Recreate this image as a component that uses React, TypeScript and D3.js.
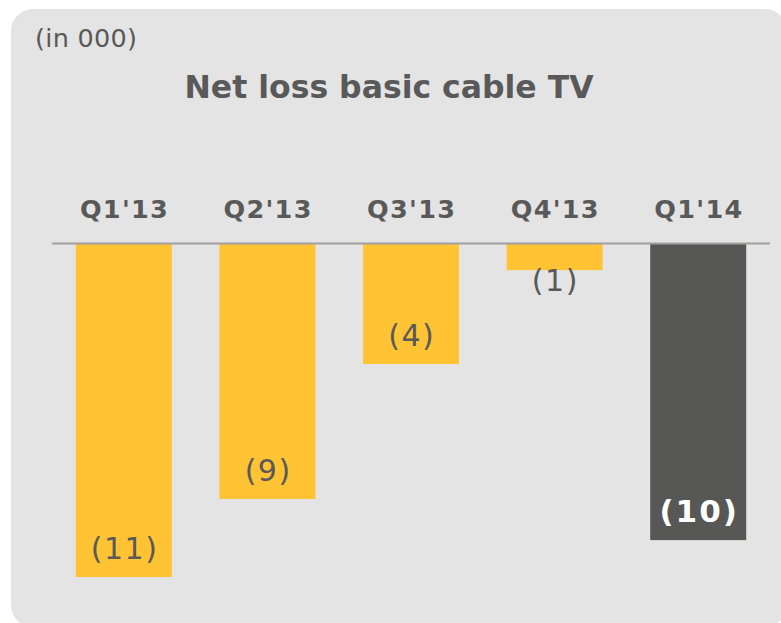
import React from "react";
import * as d3 from "d3";

const categories = ["Q1'13", "Q2'13", "Q3'13", "Q4'13", "Q1'14"];
const values = [-11.1, -8.5, -4.0, -0.87, -9.87];
const highlight = [false, false, false, false, true];
const title = "Net loss basic cable TV";
const unitLabel = "(in 000)";

const W = 781;
const H = 623;
const FONT = "Verdana, 'DejaVu Sans', sans-serif";
const TEXT = "#595959";

export default function App() {
  const x = d3
    .scaleBand<string>()
    .domain(categories)
    .range([52, 770])
    .paddingInner(0.3315)
    .paddingOuter(0.3315 / 2);
  const y = d3.scaleLinear().domain([-12, 0]).range([244 + 360, 244]);
  const fmt = (v: number) => `(${Math.round(-v)})`;

  return (
    <svg
      width={W}
      height={H}
      style={{ position: "absolute", left: 0, top: 0, background: "#fff" }}
    >
      <rect x={11} y={9} width={776} height={618} rx={22} ry={22} fill="#e4e4e4" />
      <text x={35} y={47} fontFamily={FONT} fontSize={25.5} letterSpacing={0.3} fill={TEXT}>
        {unitLabel}
      </text>
      <text
        x={389}
        y={98}
        textAnchor="middle"
        fontFamily={FONT}
        fontSize={31.5}
        fontWeight="bold"
        fill={TEXT}
      >
        {title}
      </text>
      {categories.map((c) => (
        <text
          key={c}
          x={(x(c) ?? 0) + x.bandwidth() / 2 + 0.7}
          y={218}
          textAnchor="middle"
          fontFamily={FONT}
          fontSize={25.5}
          letterSpacing={1.3}
          fontWeight="bold"
          fill={TEXT}
        >
          {c}
        </text>
      ))}
      {categories.map((c, i) => {
        const v = values[i];
        const top = y(0);
        const bottom = y(v);
        const h = bottom - top;
        const cx = (x(c) ?? 0) + x.bandwidth() / 2;
        const inside = h > 60;
        const ly = inside ? bottom - 29 : bottom + 10;
        const ls = highlight[i] ? 2 : 1.5;
        return (
          <g key={c}>
            <rect
              x={x(c)}
              y={top}
              width={x.bandwidth()}
              height={h}
              fill={highlight[i] ? "#575755" : "#ffc333"}
            />
            <text
              x={cx + ls / 2}
              y={ly}
              dy="0.35em"
              textAnchor="middle"
              fontFamily={FONT}
              fontSize={highlight[i] ? 31 : 30}
              letterSpacing={ls}
              fontWeight={highlight[i] ? "bold" : "normal"}
              fill={highlight[i] ? "#ffffff" : TEXT}
            >
              {fmt(v)}
            </text>
          </g>
        );
      })}
      <line x1={52} x2={770} y1={243.5} y2={243.5} stroke="#a0a0a0" strokeWidth={2} />
    </svg>
  );
}
